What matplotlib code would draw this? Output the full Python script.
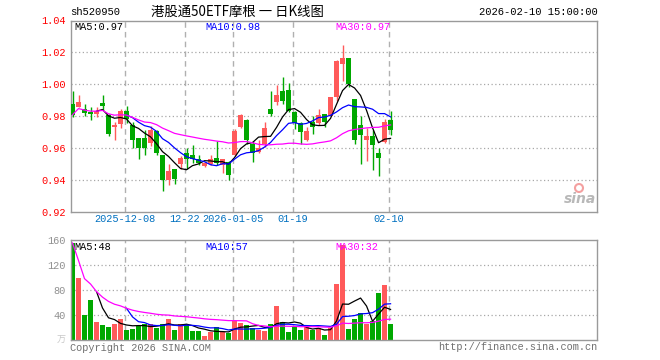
import matplotlib
matplotlib.use('Agg')
import matplotlib.pyplot as plt
from matplotlib.patches import Ellipse
import numpy as np
import pandas as pd

# ---------------- data ----------------
dates = ['2025-11-25', '2025-11-26', '2025-11-27', '2025-11-28',
         '2025-12-01', '2025-12-02', '2025-12-03', '2025-12-04', '2025-12-05',
         '2025-12-08', '2025-12-09', '2025-12-10', '2025-12-11', '2025-12-12',
         '2025-12-15', '2025-12-16', '2025-12-17', '2025-12-18', '2025-12-19',
         '2025-12-22', '2025-12-23', '2025-12-24', '2025-12-25', '2025-12-26',
         '2025-12-29', '2025-12-30', '2025-12-31',
         '2026-01-05', '2026-01-06', '2026-01-07', '2026-01-08', '2026-01-09',
         '2026-01-12', '2026-01-13', '2026-01-14', '2026-01-15', '2026-01-16',
         '2026-01-19', '2026-01-20', '2026-01-21', '2026-01-22', '2026-01-23',
         '2026-01-26', '2026-01-27', '2026-01-28', '2026-01-29', '2026-01-30',
         '2026-02-02', '2026-02-03', '2026-02-04', '2026-02-05', '2026-02-06',
         '2026-02-09', '2026-02-10']

opens = [0.9877, 0.9858, 0.9846, 0.9825, 0.9810, 0.9883, 0.9808, 0.9729, 0.9748, 0.9833,
         0.9744, 0.9663, 0.9663, 0.9631, 0.9708, 0.9552, 0.9398, 0.9465, 0.9496, 0.9565,
         0.9552, 0.9527, 0.9485, 0.9496, 0.9533, 0.9490, 0.9512, 0.9554, 0.9729, 0.9777,
         0.9625, 0.9575, 0.9621, 0.9846, 0.9885, 0.9958, 0.9965, 0.9825, 0.9756, 0.9652,
         0.9763, 0.9756, 0.9815, 0.9802, 0.9917, 1.0129, 1.0163, 0.9906, 0.9746, 0.9652,
         0.9677, 0.9567, 0.9638, 0.9777]

closes = [0.9808, 0.9885, 0.9819, 0.9810, 0.9829, 0.9860, 0.9685, 0.9746, 0.9833, 0.9781,
          0.9648, 0.9602, 0.9600, 0.9715, 0.9565, 0.9398, 0.9452, 0.9402, 0.9533, 0.9527,
          0.9527, 0.9506, 0.9502, 0.9527, 0.9502, 0.9527, 0.9429, 0.9708, 0.9808, 0.9652,
          0.9569, 0.9600, 0.9725, 0.9815, 0.9933, 0.9896, 0.9833, 0.9756, 0.9698, 0.9706,
          0.9731, 0.9808, 0.9763, 0.9917, 1.0148, 1.0163, 1.0000, 0.9652, 0.9683, 0.9677,
          0.9615, 0.9533, 0.9763, 0.9710]

highs = [0.9958, 0.9933, 0.9875, 0.9856, 0.9854, 0.9935, 0.9813, 0.9760, 0.9844, 0.9865,
         0.9760, 0.9663, 0.9715, 0.9735, 0.9715, 0.9552, 0.9496, 0.9465, 0.9548, 0.9600,
         0.9615, 0.9558, 0.9510, 0.9558, 0.9646, 0.9531, 0.9517, 0.9719, 0.9815, 0.9783,
         0.9646, 0.9652, 0.9763, 0.9960, 0.9996, 1.0048, 1.0006, 0.9833, 0.9763, 0.9729,
         0.9798, 0.9844, 0.9815, 0.9917, 1.0152, 1.0246, 1.0163, 0.9906, 0.9798, 0.9725,
         0.9715, 0.9600, 0.9783, 0.9829]

lows = [0.9792, 0.9854, 0.9798, 0.9773, 0.9792, 0.9840, 0.9673, 0.9648, 0.9725, 0.9756,
        0.9600, 0.9527, 0.9552, 0.9610, 0.9558, 0.9329, 0.9365, 0.9375, 0.9465, 0.9469,
        0.9506, 0.9490, 0.9481, 0.9490, 0.9490, 0.9440, 0.9398, 0.9548, 0.9725, 0.9621,
        0.9510, 0.9569, 0.9604, 0.9798, 0.9871, 0.9877, 0.9823, 0.9721, 0.9627, 0.9646,
        0.9690, 0.9746, 0.9729, 0.9798, 0.9896, 1.0021, 0.9985, 0.9621, 0.9496, 0.9517,
        0.9458, 0.9423, 0.9631, 0.9683]

volumes = [155.7, 99.7, 40.5, 64.5, 29.3, 24.5, 21.3, 26.1, 34.1, 16.5,
           18.1, 22.9, 26.1, 26.1, 19.7, 26.1, 34.1, 16.5, 26.1, 26.1,
           14.9, 14.9, 6.9, 13.3, 21.3, 13.3, 12.0, 30.4, 27.7, 24.0,
           19.7, 17.1, 14.9, 26.1, 54.9, 29.3, 13.3, 22.9, 16.5, 20.8,
           16.5, 19.7, 8.5, 19.7, 90.1, 152.0, 18.1, 34.1, 43.7, 26.1,
           30.4, 75.7, 88.5, 26.1]

tick_dates = ['2025-12-08', '2025-12-22', '2026-01-05', '2026-01-19', '2026-02-10']
tick_labels = ['2025-12-08', '12-22', '2026-01-05', '01-19', '02-10']

price_ticks = [0.92, 0.94, 0.96, 0.98, 1.00, 1.02, 1.04]
vol_ticks = [40, 80, 120, 160]

title = '港股通50ETF摩根 一 日K线图'
code = 'sh520950'
stamp = '2026-02-10 15:00:00'
price_ma_labels = ['MA5:0.97', 'MA10:0.98', 'MA30:0.97']
vol_ma_labels = ['MA5:48', 'MA10:57', 'MA30:32']

# ---------------- styling ----------------
RED = '#ff5a5a'
GREEN = '#00a800'
GRID = '#a8a8a8'
FRAME = '#9a9a9a'
MONO = 'Liberation Mono'
W, H = 660, 360

df = pd.DataFrame({'o': opens, 'h': highs, 'l': lows, 'c': closes, 'v': volumes})
x = np.arange(len(df))
up = df['c'] >= df['o']
colors = np.where(up, RED, GREEN)

ma5 = df['c'].rolling(5).mean()
ma10 = df['c'].rolling(10).mean()
ma30 = df['c'].rolling(30, min_periods=1).mean()
vma5 = df['v'].rolling(5).mean()
vma10 = df['v'].rolling(10).mean()
vma30 = df['v'].rolling(30, min_periods=1).mean()

fig = plt.figure(figsize=(W / 100, H / 100), dpi=100)
fig.patch.set_facecolor('white')


def px_axes(l, t, r, b):
    return fig.add_axes([l / W, 1 - b / H, (r - l) / W, (b - t) / H])


ax = px_axes(71, 20.5, 597, 211.5)
axv = px_axes(71, 240.3, 597, 340.3)

xlim = (-0.25, 87.4)
tick_pos = [dates.index(d) - 0.33 for d in tick_dates]

for a in (ax, axv):
    a.set_xlim(*xlim)
    for s in a.spines.values():
        s.set_color(FRAME)
        s.set_linewidth(1.0)
    for tp in tick_pos:
        a.axvline(tp, color='#b0b0b0', lw=1.0, ls=(0, (4, 3)), zorder=0)
    a.tick_params(length=0)

# price panel
ax.set_ylim(0.92, 1.04)
for yv in price_ticks[1:-1]:
    ax.axhline(yv, color=GRID, lw=0.9, ls=(0, (1, 2)), zorder=0)
ax.set_yticks(price_ticks)
ax.set_yticklabels([f'{v:.2f}' for v in price_ticks], color='#ff0000',
                   family=MONO, fontsize=7.4)
ax.tick_params(axis='y', pad=4)
ax.set_xticks(tick_pos)
ax.set_xticklabels(tick_labels, color='#0070c0', family=MONO, fontsize=7.4)
ax.tick_params(axis='x', pad=2)

ax.vlines(x, df['l'], df['h'], colors=colors, lw=1.0, zorder=2)
body_h = (df['c'] - df['o']).abs().clip(lower=0.0003)
ax.bar(x, body_h, bottom=np.minimum(df['o'], df['c']), width=0.75,
       color=colors, edgecolor=colors, lw=0, zorder=3)
ax.plot(x, ma5, color='black', lw=0.9, zorder=4)
ax.plot(x, ma10, color='#0000ff', lw=0.9, zorder=4)
ax.plot(x, ma30, color='#ff00ff', lw=0.9, zorder=4)

# volume panel
axv.set_ylim(0, 160)
for yv in vol_ticks[:-1]:
    axv.axhline(yv, color=GRID, lw=0.9, ls=(0, (1, 2)), zorder=0)
axv.set_yticks(vol_ticks)
axv.set_yticklabels([str(v) for v in vol_ticks], color='#909090',
                    family=MONO, fontsize=7.4)
axv.tick_params(axis='y', pad=4)
axv.set_xticks([])
axv.bar(x, df['v'], width=0.8, color=colors, lw=0, zorder=2)
axv.plot(x, vma5, color='black', lw=0.9, zorder=4)
axv.plot(x, vma10, color='#0000ff', lw=0.9, zorder=4)
axv.plot(x, vma30, color='#ff00ff', lw=0.9, zorder=4)


def ftext(px, py, s, **kw):
    fig.text(px / W, 1 - py / H, s, **kw)


ftext(70, 12, code, family=MONO, fontsize=7.6, color='black', va='center', ha='left')
ftext(237, 12, title, family=['Noto Sans CJK SC', 'DejaVu Sans'], fontsize=9.6,
      color='black', va='center', ha='center')
ftext(598, 12, stamp, family=MONO, fontsize=7.6, color='black', va='center', ha='right')

ma_cols = ['black', '#0000ff', '#ff00ff']
ma_x = [74, 205, 335]
for lbl, col, mx in zip(price_ma_labels, ma_cols, ma_x):
    ftext(mx, 27, lbl, family=MONO, fontsize=7.4, color=col, va='center', ha='left')
for lbl, col, mx in zip(vol_ma_labels, ma_cols, ma_x):
    ftext(mx, 247, lbl, family=MONO, fontsize=7.4, color=col, va='center', ha='left')

ftext(66, 340, '万', family=['Noto Sans CJK SC', 'DejaVu Sans'], fontsize=6.5,
      color='#c8c8c8', va='center', ha='right')
ftext(70, 348, 'Copyright 2026 SINA.COM', family=MONO, fontsize=7.4,
      color='#707070', va='center', ha='left')
ftext(597, 347, 'http://finance.sina.com.cn', family=MONO, fontsize=7.4,
      color='#707070', va='center', ha='right')
ftext(596, 199, 'sina', family='DejaVu Sans', fontsize=10, style='italic',
      weight='bold', color='#b8b8b8', va='center', ha='right')
# small logo eye as a patch
eye = Ellipse((579 / W, 1 - 188 / H), 8 / W, 8 / H, transform=fig.transFigure,
              facecolor='none', edgecolor='#f4a0a0', lw=1.5)
fig.add_artist(eye)

fig.savefig('out.png', dpi=100, facecolor='white')
